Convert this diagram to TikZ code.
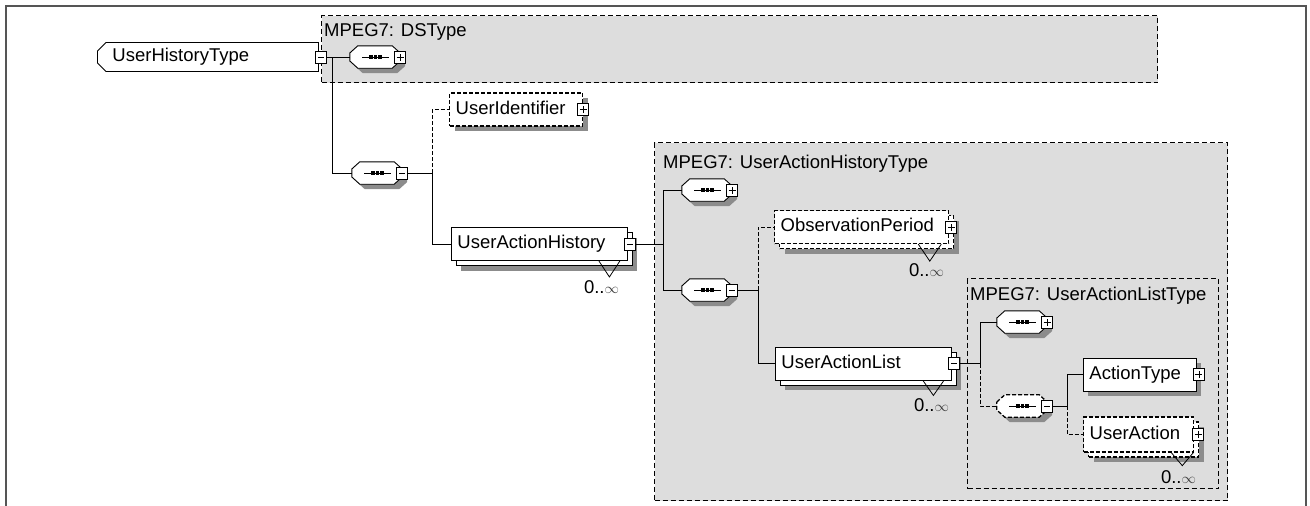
\documentclass[tikz,border=0pt]{standalone}
\usepackage{fontspec}
\setmainfont{Liberation Sans}
\usetikzlibrary{shapes.misc}

\definecolor{grpgray}{RGB}{221,221,221}
\definecolor{shadegray}{RGB}{140,140,140}
\definecolor{framegray}{RGB}{85,85,85}

\tikzset{
  every node/.style={font=\fontsize{18.5}{22}\selectfont},
  conn/.style={line width=0.8pt},
  optconn/.style={conn, dash pattern=on 4pt off 2pt},
  grp/.style={draw, fill=grpgray, line width=1.4pt, dash pattern=on 5pt off 3pt, anchor=north west, inner sep=0pt},
  grplbl/.style={anchor=north west, inner sep=0pt},
  shad/.style={preaction={draw=none, fill=shadegray, transform canvas={shift={(5pt,-5pt)}}}},
  stacked/.style={preaction={draw=none, fill=shadegray, transform canvas={shift={(10pt,-10pt)}}},
                  preaction={draw, fill=white, transform canvas={shift={(5pt,-5pt)}}}},
  elem/.style={draw, fill=white, line width=0.9pt, anchor=west, align=left, inner xsep=6pt, inner ysep=0pt,
               minimum height=33pt, text height=13.5pt, text depth=4pt},
  opt/.style={line width=1.3pt, dash pattern=on 4pt off 2pt},
  rootbox/.style={elem, chamfered rectangle, chamfered rectangle corners={north west,south west},
                  chamfered rectangle xsep=5pt, minimum height=29pt},
  % sequence compositor: octagon with the sequence icon
  seqc/.style={rectangle, minimum width=50pt, minimum height=22pt, inner sep=0pt,
    append after command={\pgfextra{
      \draw[fill=white, line width=0.9pt, shad, #1]
        ([yshift=4pt]\tikzlastnode.west) -- ([xshift=8pt]\tikzlastnode.north west)
        -- ([xshift=-8pt]\tikzlastnode.north east) -- ([yshift=4pt]\tikzlastnode.east)
        -- ([yshift=-4pt]\tikzlastnode.east) -- ([xshift=-8pt]\tikzlastnode.south east)
        -- ([xshift=8pt]\tikzlastnode.south west) -- ([yshift=-4pt]\tikzlastnode.west) -- cycle;
      \draw[line width=1pt] ([xshift=-13pt]\tikzlastnode.center) -- ([xshift=14pt]\tikzlastnode.center);
      \foreach \dx in {-6,-1.5,3}
        \fill[black] ([xshift=\dx pt, yshift=-2.2pt]\tikzlastnode.center) rectangle ++(3.8pt,4.4pt);
    }}},
  seqc/.default={},
  ctrl/.style={draw, fill=white, solid, line width=0.8pt, minimum width=11pt, minimum height=12pt, inner sep=0pt},
  collapse/.style={ctrl, path picture={
      \draw[line width=0.8pt] ([xshift=-3pt]path picture bounding box.center)
        -- ([xshift=3pt]path picture bounding box.center);}},
  expand/.style={ctrl, path picture={
      \draw[line width=0.8pt] ([xshift=-3.5pt]path picture bounding box.center)
        -- ([xshift=3.5pt]path picture bounding box.center)
        ([yshift=-3.5pt]path picture bounding box.center)
        -- ([yshift=3.5pt]path picture bounding box.center);}},
  mult/.style={anchor=north, inner sep=0pt}
}

\newcommand{\manyinf}{0..{\fontsize{14}{14}\selectfont\color{black!75}$\infty$}}

\begin{document}
\begin{tikzpicture}[x=1pt, y=-1pt]
  \useasboundingbox (0,0) rectangle (1310,506);
  % outer frame
  \draw[framegray, line width=1.5pt] (6,506) -- (6,6) -- (1306,6) -- (1306,506);

  % type groups
  \node[grp, minimum width=836pt, minimum height=67pt] (dsgrp) at (321,15) {};
  \node[grplbl] (dslbl) at (324,23) {MPEG7: DSType};
  \node[grp, minimum width=573pt, minimum height=358pt] (uahgrp) at (654,142) {};
  \node[grplbl] (uahlbl) at (663,155) {MPEG7: UserActionHistoryType};
  \node[grp, minimum width=251pt, minimum height=210pt] (ualgrp) at (967,278) {};
  \node[grplbl] (ual lbl) at (970,287) {MPEG7: UserActionListType};

  % root element
  \node[rootbox, text width=191pt, inner xsep=10pt] (root) at (97,57) {UserHistoryType};
  \node[collapse] (rootx) at ([xshift=2pt]root.east) {};

  % sequences
  \node[seqc] (dsseq) at (375,57) {};
  \node[expand] (dsseqx) at (dsseq.east) {};
  \node[seqc] (seq2) at (377,173) {};
  \node[collapse] (seq2x) at (seq2.east) {};
  \node[seqc] (uahseqa) at (707,190) {};
  \node[expand] (uahseqax) at (uahseqa.east) {};
  \node[seqc] (uahseqb) at (707,290) {};
  \node[collapse] (uahseqbx) at (uahseqb.east) {};
  \node[seqc] (ualseqa) at (1022,322) {};
  \node[expand] (ualseqax) at (ualseqa.east) {};
  \node[seqc=opt] (ualseqb) at (1022,406) {};
  \node[collapse] (ualseqbx) at (ualseqb.east) {};

  % elements
  \node[elem, opt, shad, text width=121pt] (uid) at (449,109.5) {UserIdentifier};
  \node[expand] (uidx) at (uid.east) {};
  \node[elem, stacked, text width=164pt] (uah) at (451,244) {UserActionHistory};
  \node[collapse] (uahx) at ([xshift=2pt]uah.east) {};
  \node[elem, opt, stacked, text width=162pt] (obs) at (774,227) {ObservationPeriod};
  \node[expand] (obsx) at ([xshift=2pt]obs.east) {};
  \node[elem, stacked, text width=164pt] (ual) at (775,363.5) {UserActionList};
  \node[collapse] (ualx) at ([xshift=2pt]ual.east) {};
  \node[elem, shad, text width=101pt] (act) at (1083,374.5) {ActionType};
  \node[expand] (actx) at ([xshift=2pt]act.east) {};
  \node[elem, opt, stacked, minimum height=35pt, text width=98pt] (ua) at (1083,434.5) {UserAction};
  \node[expand] (uax) at ([xshift=4pt]ua.east) {};

  % occurrence marks
  \draw[conn] ([xshift=-29pt]uah.south east) -- ++(10.5pt,-16pt) -- ++(10.5pt,16pt);
  \node[mult] (uahm) at (601.5,280) {\manyinf};
  \draw[conn] ([xshift=-31pt]obs.south east) -- ++(11.5pt,-17pt) -- ++(11.5pt,17pt);
  \node[mult] (obsm) at (926.5,263) {\manyinf};
  \draw[conn] ([xshift=-29pt]ual.south east) -- ++(10.5pt,-15pt) -- ++(10.5pt,15pt);
  \node[mult] (ualm) at (931.5,398) {\manyinf};
  \draw[conn] ([xshift=-23pt]ua.south east) -- ++(11pt,-13pt) -- ++(11pt,13pt);
  \node[mult] (uam) at (1178.5,470) {\manyinf};

  % junctions
  \coordinate (j1) at (332,57);
  \coordinate (j2) at (432,173);
  \coordinate (j3) at (663,244);
  \coordinate (j4) at (758,290);
  \coordinate (j5) at (980,363.5);
  \coordinate (j6) at (1067,406);

  % connectors
  \draw[conn] (rootx.east) -- (dsseq.west);
  \draw[conn] (j1) |- (seq2.west);
  \draw[conn] (seq2x.east) -- (j2);
  \draw[optconn] (j2) |- (uid.west);
  \draw[conn] (j2) |- (uah.west);
  \draw[conn] (uahx.east) -- (j3);
  \draw[conn] (j3) |- (uahseqa.west);
  \draw[conn] (j3) |- (uahseqb.west);
  \draw[conn] (uahseqbx.east) -- (j4);
  \draw[optconn] (j4) |- (obs.west);
  \draw[conn] (j4) |- (ual.west);
  \draw[conn] (ualx.east) -- (j5);
  \draw[conn] (j5) |- (ualseqa.west);
  \draw[optconn] (j5) |- (ualseqb.west);
  \draw[conn] (ualseqbx.east) -- (j6);
  \draw[conn] (j6) |- (act.west);
  \draw[optconn] (j6) |- (ua.west);
\end{tikzpicture}
\end{document}
